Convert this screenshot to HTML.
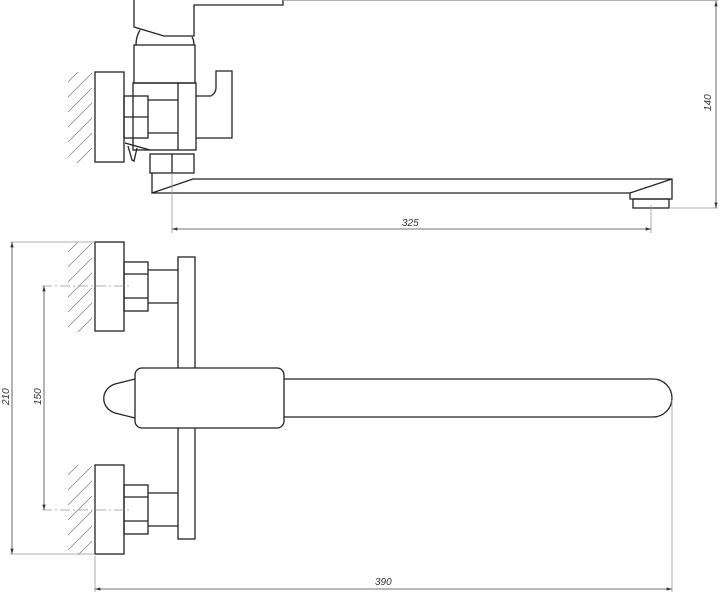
<!DOCTYPE html>
<html><head><meta charset="utf-8"><style>
html,body{margin:0;padding:0;background:#fff;}
svg{display:block;}
text{font-family:"Liberation Sans",sans-serif;font-size:10px;font-style:italic;fill:#333;}
</style></head><body>
<svg width="720" height="593" viewBox="0 0 720 593" xmlns="http://www.w3.org/2000/svg">
<defs>
<marker id="ar" viewBox="0 0 10 6" refX="10" refY="3" markerWidth="7" markerHeight="4" orient="auto-start-reverse"><path d="M0,0L10,3L0,6z" fill="#333"/></marker>
<clipPath id="c1"><rect x="66" y="72" width="27" height="91"/></clipPath>
<clipPath id="c2"><rect x="66" y="242" width="27" height="90"/></clipPath>
<clipPath id="c3"><rect x="66" y="465" width="27" height="90"/></clipPath>
<g id="h"><path d="M68,20L92,-4M68,35L92,11M68,50L92,26M68,65L92,41M68,80L92,56M68,95L92,71M68,110L92,86M68,125L92,101"/></g>
</defs>
<!-- hatching -->
<g stroke="#888" stroke-width="0.8">
<g clip-path="url(#c1)"><use href="#h" y="62"/></g>
<g clip-path="url(#c2)"><use href="#h" y="232"/></g>
<g clip-path="url(#c3)"><use href="#h" y="455"/></g>
</g>
<g fill="none" stroke="#222" stroke-width="1.3" stroke-linejoin="miter">
<!-- side view -->
<path d="M134,0L134,27L164,36L194,36L194,5L283,5L283,0"/>
<path d="M140,30C137,35 136,40 136,45M192,37C194,40 194,43 194,45"/>
<rect x="134" y="45" width="61" height="38"/>
<rect x="95" y="72" width="29" height="90"/>
<rect x="133" y="83" width="63" height="67"/>
<line x1="178" y1="83" x2="178" y2="150"/>
<rect x="124" y="96" width="24" height="42"/>
<line x1="124" y1="117" x2="148" y2="117"/>
<line x1="148" y1="100" x2="178" y2="100"/>
<line x1="148" y1="133" x2="178" y2="133"/>
<path d="M196,96L211,96C214,94 216,91 216,88L216,71L232,71L232,138L196,138"/>
<path d="M125,143L150,150M128,146L132,160L134,161L137,148"/>
<rect x="150" y="154" width="44" height="19"/>
<line x1="172" y1="154" x2="172" y2="173"/>
<path d="M152,173L152,193L193,179L672,179L672,199L630,199L630,193L152,193"/>
<path d="M672,179L630,193"/>
<rect x="633" y="199" width="36" height="9"/>
<!-- front view -->
<rect x="95" y="242" width="29" height="89"/>
<rect x="124" y="262" width="24" height="49"/>
<line x1="124" y1="274" x2="148" y2="274"/><line x1="124" y1="298" x2="148" y2="298"/>
<path d="M148,270L178,270M148,303L178,303"/>
<rect x="178" y="257" width="17" height="282" fill="#fff"/>
<rect x="95" y="465" width="29" height="89"/>
<rect x="124" y="485" width="24" height="49"/>
<line x1="124" y1="497" x2="148" y2="497"/><line x1="124" y1="521" x2="148" y2="521"/>
<path d="M148,493L178,493M148,526L178,526"/>
<path d="M284,379L653,379A19,19 0 0 1 653,417L284,417"/>
<path d="M135,379L115,384C100,389 100,408 115,413L135,418"/>
<rect x="135" y="368" width="149" height="60" rx="7" fill="#fff"/>
</g>
<!-- dims -->
<g stroke="#999" stroke-width="0.8" fill="none">
<line x1="283" y1="0.5" x2="718" y2="0.5"/>
<line x1="669" y1="208" x2="718" y2="208"/>
<line x1="172" y1="173" x2="172" y2="233"/>
<line x1="651" y1="205" x2="651" y2="233"/>
<line x1="10" y1="242" x2="95" y2="242"/>
<line x1="10" y1="554" x2="95" y2="554"/>
<line x1="42" y1="286" x2="132" y2="286" stroke-dasharray="10,3,2,3"/>
<line x1="42" y1="510" x2="132" y2="510" stroke-dasharray="10,3,2,3"/>
<line x1="95" y1="556" x2="95" y2="592"/>
<line x1="672" y1="400" x2="672" y2="592"/>
</g>
<g stroke="#444" stroke-width="0.8" fill="none">
<line x1="716" y1="1" x2="716" y2="208" marker-start="url(#ar)" marker-end="url(#ar)"/>
<line x1="172" y1="229" x2="651" y2="229" marker-start="url(#ar)" marker-end="url(#ar)"/>
<line x1="12" y1="242" x2="12" y2="554" marker-start="url(#ar)" marker-end="url(#ar)"/>
<line x1="44" y1="286" x2="44" y2="510" marker-start="url(#ar)" marker-end="url(#ar)"/>
<line x1="95" y1="589" x2="672" y2="589" marker-start="url(#ar)" marker-end="url(#ar)"/>
</g>
<text x="402" y="226">325</text>
<text x="375" y="585">390</text>
<text transform="translate(711,111) rotate(-90)">140</text>
<text transform="translate(9,405) rotate(-90)">210</text>
<text transform="translate(41,405) rotate(-90)">150</text>
</svg>
</body></html>
